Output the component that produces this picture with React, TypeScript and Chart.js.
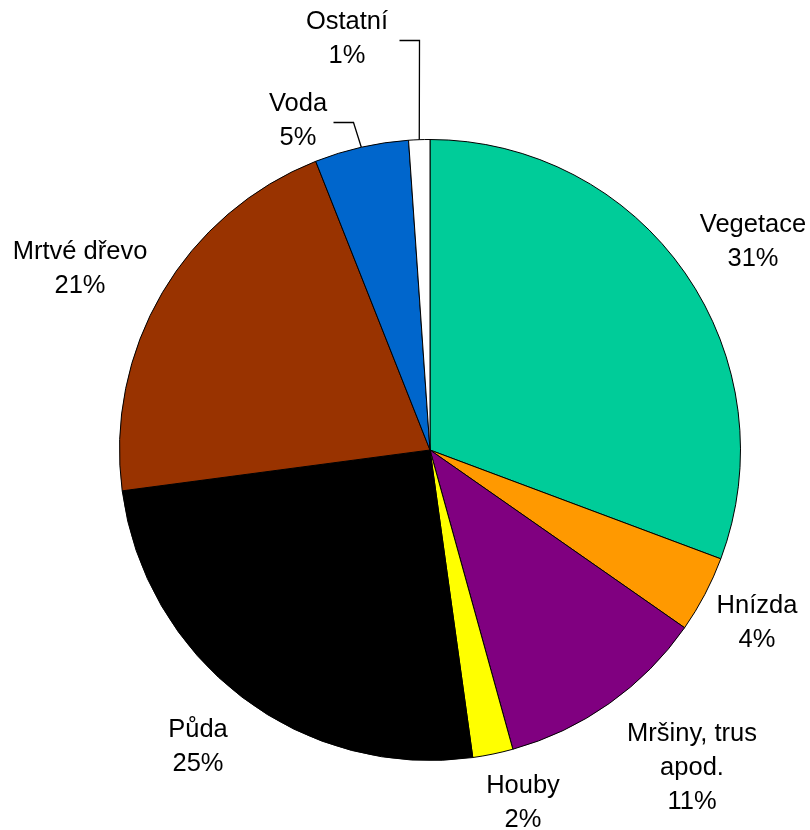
import React, { useEffect, useRef } from "react";
import { Chart, registerables } from "chart.js";

Chart.register(...registerables);

const categories = ["Vegetace", "Hnízda", "Mršiny, trus apod.", "Houby", "Půda", "Mrtvé dřevo", "Voda", "Ostatní"];
const labelLines = [["Vegetace"], ["Hnízda"], ["Mršiny, trus", "apod."], ["Houby"], ["Půda"], ["Mrtvé dřevo"], ["Voda"], ["Ostatní"]];
const shares = [30.7, 4.0, 11.0, 2.1, 25.1, 21.1, 4.9, 1.1];
const percentLabels = ["31%", "4%", "11%", "2%", "25%", "21%", "5%", "1%"];
const colors = ["#00CC99", "#FF9900", "#800080", "#FFFF00", "#000000", "#993300", "#0066CC", "#FFFFFF"];

// label block centre offsets relative to pie centre (layout, not data)
const labelOffsets: [number, number][] = [
  [323, -208],
  [327, 173],
  [262, 318],
  [93, 353],
  [-232, 297],
  [-350, -181],
  [-132, -329],
  [-83, -411],
];
// leader lines: start offset from label centre (null = no leader)
const leaders: ([number, number] | null)[] = [null, null, null, null, null, null, [35, 1], [52, 1]];

const FONT = "25.5px 'Liberation Sans', Arial, sans-serif";
const LINE_H = 34;

const labelPlugin = {
  id: "outsideLabels",
  afterDraw(chart: any) {
    const ctx = chart.ctx;
    const meta = chart.getDatasetMeta(0);
    ctx.save();
    ctx.font = FONT;
    ctx.fillStyle = "#000";
    ctx.textAlign = "center";
    ctx.textBaseline = "middle";
    meta.data.forEach((arc: any, i: number) => {
      const p = arc.getProps(["x", "y", "startAngle", "endAngle", "outerRadius"], true);
      const lines = [...labelLines[i], percentLabels[i]];
      const cx = p.x + labelOffsets[i][0];
      const cy = p.y + labelOffsets[i][1];
      const top = cy - ((lines.length - 1) * LINE_H) / 2;
      lines.forEach((t, k) => ctx.fillText(t, cx, top + k * LINE_H));
      const ld = leaders[i];
      if (ld) {
        const mid = (p.startAngle + p.endAngle) / 2;
        const ax = p.x + Math.cos(mid) * p.outerRadius;
        const ay = p.y + Math.sin(mid) * p.outerRadius;
        const sx = Math.round(cx + ld[0]) + 0.5;
        const sy = Math.round(cy + ld[1]) + 0.5;
        ctx.beginPath();
        ctx.strokeStyle = "#000";
        ctx.lineWidth = 1.3;
        ctx.moveTo(sx, sy);
        ctx.lineTo(sx + 20, sy);
        ctx.lineTo(ax, ay);
        ctx.stroke();
      }
    });
    ctx.restore();
  },
};

export default function App() {
  const ref = useRef<HTMLCanvasElement>(null);
  useEffect(() => {
    if (!ref.current) return;
    const chart = new Chart(ref.current, {
      type: "pie",
      data: {
        labels: categories,
        datasets: [
          {
            data: shares,
            backgroundColor: colors,
            borderColor: "#000000",
            borderWidth: 1,
          },
        ],
      },
      options: {
        responsive: false,
        animation: false,
        layout: { padding: { left: 119, right: 69, top: 139, bottom: 69 } },
        plugins: { legend: { display: false }, tooltip: { enabled: false } },
      },
      plugins: [labelPlugin],
    });
    return () => chart.destroy();
  }, []);
  return (
    <div style={{ position: "absolute", left: 0, top: 0, width: 810, height: 830, background: "#fff" }}>
      <canvas ref={ref} width={810} height={830} style={{ width: 810, height: 830 }} />
    </div>
  );
}
